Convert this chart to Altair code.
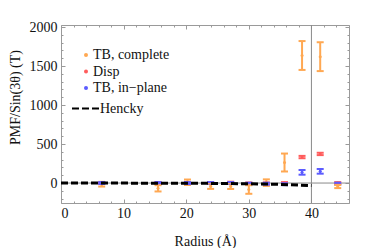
import altair as alt
import pandas as pd

# ---- data ----
radius = [6.5, 15.5, 20.2, 23.9, 27.1, 30.0, 32.8, 35.7, 38.5, 41.4, 44.2]

tb_complete = [-15, -68, 10, -40, -40, -83, 5, 263, 1635, 1620, -45]
tb_complete_err = [30, 40, 35, 35, 36, 55, 42, 115, 185, 185, 20]

disp = [0, 0, 0, 0, 5, -5, -5, 0, 333, 373, 0]
disp_err = [12, 12, 12, 12, 12, 12, 12, 12, 15, 15, 12]

tb_inplane = [0, 0, 0, 0, 0, -8, -8, -15, 137, 150, -8]
tb_inplane_err = [12, 12, 12, 12, 12, 12, 12, 12, 30, 30, 12]

hencky_r = [0, 5, 10, 15, 20, 25, 30, 35, 40]
hencky_pmf = [0, 0, -1, -2, -3, -5, -9, -17, -32]

point_names = ["TB, complete", "Disp", "TB, in\u2212plane"]
point_colors = ["#FFA852", "#FF5C5C", "#5C5CFF"]
line_name = "Hencky"

vline_x = [40]
hline_y = [0]

x_ticks = list(range(0, 47, 2))
y_ticks = list(range(-200, 2001, 100))

# ---- tables ----
rows = []
for name, vals, errs in [
    (point_names[0], tb_complete, tb_complete_err),
    (point_names[1], disp, disp_err),
    (point_names[2], tb_inplane, tb_inplane_err),
]:
    for r, v, e in zip(radius, vals, errs):
        rows.append({"series": name, "r": r, "pmf": v, "lo": v - e, "hi": v + e})
pts = pd.DataFrame(rows)
hencky = pd.DataFrame({"series": line_name, "r": hencky_r, "pmf": hencky_pmf})

FONT = "Liberation Serif"
GRAY = "#9a9a9a"
TXT = "#111111"

xscale = alt.Scale(domain=[0, 46], nice=False, zero=False)
yscale = alt.Scale(domain=[-256, 2026], nice=False, zero=False)

legend_pts = alt.Legend(
    title=None, orient="none", legendX=18, legendY=23, padding=0,
    labelFont=FONT, labelFontSize=14, labelColor=TXT, labelOffset=0,
    symbolType="circle", symbolSize=16, symbolStrokeWidth=0, symbolOpacity=1,
    rowPadding=2.5,
)
color = alt.Color("series:N", scale=alt.Scale(domain=point_names, range=point_colors),
                  legend=legend_pts)

legend_line = alt.Legend(
    title=None, orient="none", legendX=10, legendY=69, padding=0,
    labelFont=FONT, labelFontSize=14, labelColor=TXT, labelOffset=0,
    symbolType="stroke", symbolSize=729, symbolStrokeWidth=2, symbolStrokeColor="#000",
    symbolDash=[6, 3], symbolOpacity=1,
)
dash = alt.StrokeDash("series:N", scale=alt.Scale(domain=[line_name], range=[[7, 3]]),
                      legend=legend_line)

x_axis = alt.Axis(
    values=x_ticks, labelExpr="datum.value % 10 === 0 ? datum.label : ''", format="d",
    tickSize=alt.ExprRef("datum.value % 10 === 0 ? -4 : -2"), tickColor=GRAY,
    domain=False, grid=False, labelPadding=7, labelFont=FONT, labelFontSize=14,
    labelColor=TXT, title="Radius (\u00c5)", titleFont=FONT, titleFontSize=14,
    titleFontWeight="normal", titleColor=TXT, titleY=42, titleBaseline="alphabetic",
)
y_axis = alt.Axis(
    values=y_ticks, labelExpr="datum.value % 500 === 0 ? datum.label : ''", format="d",
    tickSize=alt.ExprRef("datum.value % 500 === 0 ? -4 : -2"), tickColor=GRAY,
    domain=False, grid=False, labelPadding=8, labelFont=FONT, labelFontSize=14,
    labelColor=TXT, title="PMF/Sin(3\u03b8) (T)", titleFont=FONT, titleFontSize=14,
    titleFontWeight="normal", titleColor=TXT, titleX=-39, titleY=72,
)
x_top = alt.Axis(values=x_ticks, labels=False, title=None, domain=False, grid=False,
                 tickColor=GRAY, tickSize=alt.ExprRef("datum.value % 10 === 0 ? -4 : -2"),
                 orient="top")
y_right = alt.Axis(values=y_ticks, labels=False, title=None, domain=False, grid=False,
                   tickColor=GRAY, tickSize=alt.ExprRef("datum.value % 500 === 0 ? -4 : -2"),
                   orient="right")

vrule = alt.Chart(pd.DataFrame({"v": vline_x})).mark_rule(color="#8a8a8a", strokeWidth=1).encode(
    x=alt.X("v:Q", scale=xscale, axis=x_top))
hrule = alt.Chart(pd.DataFrame({"h": hline_y})).mark_rule(color="#8a8a8a", strokeWidth=1).encode(
    y=alt.Y("h:Q", scale=yscale, axis=y_right))

base = alt.Chart(pts)
dots = base.mark_circle(size=9, opacity=1).encode(
    x=alt.X("r:Q", scale=xscale, axis=x_axis),
    y=alt.Y("pmf:Q", scale=yscale, axis=y_axis),
    color=color,
)
bars = base.mark_rule(strokeWidth=2).encode(
    x=alt.X("r:Q", scale=xscale, axis=None),
    y=alt.Y("lo:Q", scale=yscale, axis=None),
    y2="hi:Q",
    color=color,
)
cap_lo = base.mark_tick(orient="horizontal", size=7, thickness=2, opacity=1).encode(
    x=alt.X("r:Q", scale=xscale, axis=None),
    y=alt.Y("lo:Q", scale=yscale, axis=None),
    color=color,
)
cap_hi = base.mark_tick(orient="horizontal", size=7, thickness=2, opacity=1).encode(
    x=alt.X("r:Q", scale=xscale, axis=None),
    y=alt.Y("hi:Q", scale=yscale, axis=None),
    color=color,
)
line = alt.Chart(hencky).mark_line(color="#000", strokeWidth=3).encode(
    x=alt.X("r:Q", scale=xscale, axis=None),
    y=alt.Y("pmf:Q", scale=yscale, axis=None),
    strokeDash=dash,
)

chart = alt.layer(vrule, hrule, dots, bars, cap_lo, cap_hi, line).resolve_axis(
    x="independent", y="independent"
).properties(
    width=288, height=178,
    padding={"left": 53, "top": 17, "right": 17, "bottom": 45},
    autosize=alt.AutoSizeParams(type="none"),
).configure(
    background="white", font=FONT
).configure_view(
    stroke=GRAY, strokeWidth=1
).configure_axis(
    labelFont=FONT, titleFont=FONT
).configure_legend(
    labelFont=FONT, titleFont=FONT
)

chart.save("out.html", embed_options={"renderer": "svg", "actions": False})
